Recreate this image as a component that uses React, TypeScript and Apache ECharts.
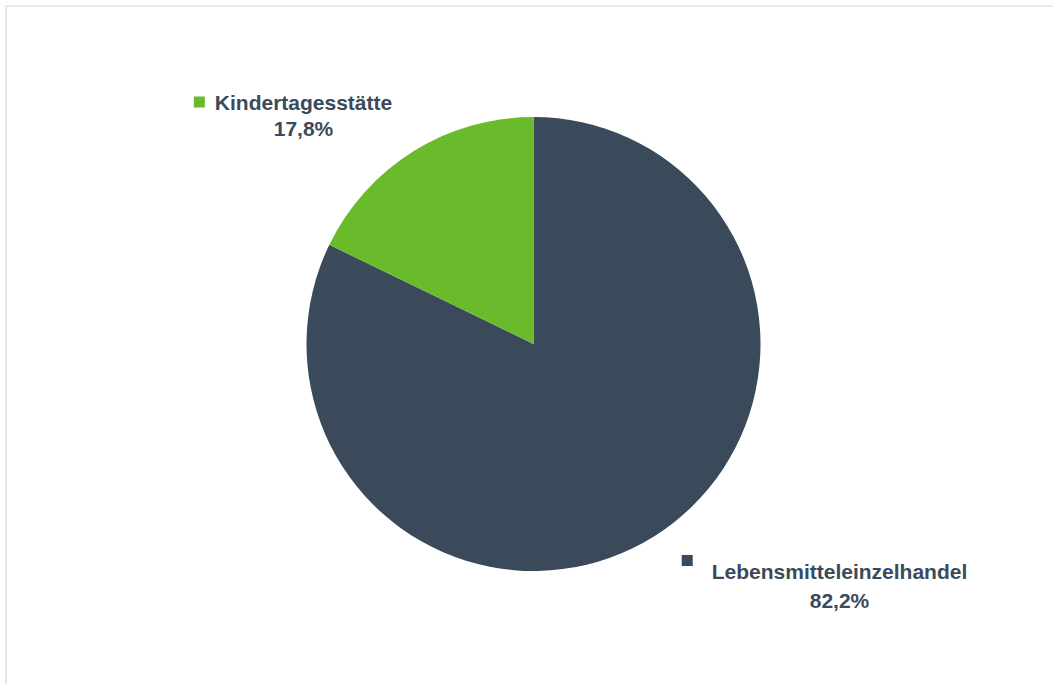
import React, { useEffect, useRef } from "react";
import * as echarts from "echarts";

const categories = ["Lebensmitteleinzelhandel", "Kindertagesstätte"];
const values = [82.2, 17.8];
const valueLabels = ["82,2%", "17,8%"];
const colors = ["#3a4a5a", "#6abb2c"];

const TEXT_COLOR = "#3a4a5a";
const FONT = "'Liberation Sans', Arial, sans-serif";

// label placement (block anchor: center x, top y)
const labelAnchors = [
  { x: 824.5, y: 555, markerTop: true },
  { x: 293, y: 89, markerTop: false },
];

export default function App() {
  const ref = useRef<HTMLDivElement>(null);

  useEffect(() => {
    if (!ref.current) return;
    const chart = echarts.init(ref.current, null, { renderer: "svg" });

    const data = categories.map((name, i) => {
      const top = labelAnchors[i].markerTop;
      return {
        name,
        value: values[i],
        itemStyle: { color: colors[i] },
        label: {
          formatter: () =>
            `{m${i}|}{g${i}|}{n${top ? "t" : ""}|${name}}\n{s${i}|}{p|${valueLabels[i]}}`,
          rich: {
            [`m${i}`]: {
              width: 11,
              height: 11,
              backgroundColor: colors[i],
              verticalAlign: top ? "top" : "middle",
            },
            [`g${i}`]: { width: top ? 19 : 10 },
            [`s${i}`]: { width: top ? 30 : 21 },
          },
        },
      };
    });

    const commonText = {
      fontFamily: FONT,
      fontWeight: "bold",
      fontSize: 21,
      color: TEXT_COLOR,
    };

    chart.setOption({
      animation: false,
      backgroundColor: "#ffffff",
      graphic: [
        {
          type: "rect",
          shape: { x: 6, y: 6, width: 1200, height: 900 },
          style: { fill: "none", stroke: "#e8e8ee", lineWidth: 2 },
          silent: true,
        },
      ],
      series: [
        {
          type: "pie",
          center: [533.5, 344],
          radius: 227,
          startAngle: 90,
          clockwise: true,
          silent: true,
          emphasis: { disabled: true },
          labelLine: { show: false },
          label: {
            show: true,
            position: "outside",
            align: "center",
            rich: {
              n: { ...commonText, lineHeight: 26 },
              nt: { ...commonText, lineHeight: 32 },
              p: { ...commonText, lineHeight: 26 },
            },
          },
          labelLayout: (params: any) => {
            const a = labelAnchors[params.dataIndex];
            return { x: a.x, y: a.y, align: "center", verticalAlign: "top" };
          },
          data,
        },
      ],
    });

    return () => chart.dispose();
  }, []);

  return (
    <div
      ref={ref}
      style={{ position: "fixed", left: 0, top: 0, width: 1053, height: 684 }}
    />
  );
}
